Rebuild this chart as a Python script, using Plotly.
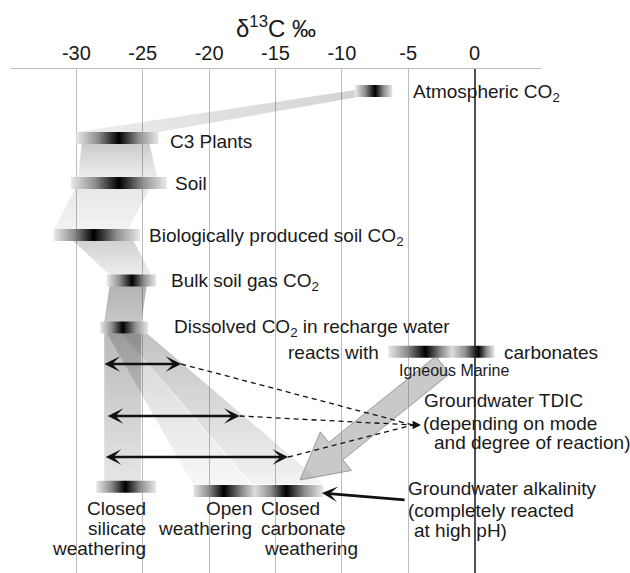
import plotly.graph_objects as go

# ---------------- data: delta 13C (permil) ----------------
source_names = ["Atmospheric CO2", "C3 Plants", "Soil", "Biologically produced soil CO2",
                "Bulk soil gas CO2", "Dissolved CO2 in recharge water", "Closed silicate weathering"]
source_low  = [-9.0, -30.0, -30.4, -31.7, -27.7, -28.2, -28.5]
source_peak = [-7.5, -26.8, -26.8, -28.7, -25.8, -26.5, -26.3]
source_high = [-6.2, -23.8, -23.2, -25.2, -24.0, -24.6, -24.0]
source_row  = [91, 138, 183, 235, 280.5, 327.5, 486.7]

carbonate_range = [-6.5, 1.5]
carbonate_peaks = [-3.7, 0.3]          # igneous, marine
carbonate_row = 351.7
weathering_range = [-21.2, -11.4]
weathering_peaks = [-18.9, -14.2]      # open, closed carbonate
weathering_row = 491

# groundwater TDIC ranges (double arrows)
tdic_low  = [-28.0, -27.75, -27.9]
tdic_high = [-22.1, -17.7, -14.05]
tdic_row  = [364, 416, 457]

# transition bands: top range / bottom range
link_top_lo = [-29.6, -30.1, -30.25, -27.5, -27.9, -27.7, -26.6]
link_top_hi = [-24.5, -24.5, -25.7, -24.7, -25.13, -26.6, -24.7]
link_top_y  = [144, 189, 240.7, 286, 333.3, 333.3, 333.3]
link_bot_lo = [-29.85, -31.7, -27.5, -27.9, -27.9, -21.14, -16.8]
link_bot_hi = [-23.9, -26.1, -24.35, -25.1, -25.13, -16.8, -11.4]
link_bot_y  = [177.3, 229.5, 275, 322, 481.7, 486, 484]

tick_vals = [-35, -30, -25, -20, -15, -10, -5, 0, 5]
tick_text = ["", "-30", "-25", "-20", "-15", "-10", "-5", "0", ""]

# ---------------- layout geometry ----------------
W, H = 630, 573
ML, MR, MT, MB = 10, 89, 69, 0
X0, X1 = -35, 5
SX = (W - ML - MR) / (X1 - X0)
FONT = "Liberation Sans, Arial, sans-serif"


def px(x):
    return ML + (x - X0) * SX


def dx(p):
    return X0 + (p - ML) / SX


fig = go.Figure()


def poly(xs, ys, gtype, cscale):
    fig.add_trace(go.Scatter(
        x=list(xs) + [xs[0]], y=list(ys) + [ys[0]], mode="lines", fill="toself",
        line=dict(width=0), fillgradient=dict(type=gtype, colorscale=cscale),
        hoverinfo="skip", showlegend=False))


def gray(a):
    return f"rgba(0,0,0,{a})"


# wedge from C3 plants up to atmospheric CO2
poly([source_low[1], source_high[1], source_low[0], source_low[0]],
     [source_row[1] - 6, source_row[1] - 6, source_row[0] + 6.5, source_row[0] - 1],
     "horizontal", [[0, gray(0.07)], [1, gray(0.17)]])

link_alpha = [(0.07, 0.2), (0.05, 0.09), (0.07, 0.18), (0.22, 0.3),
              (0.1, 0.27), (0.03, 0.17), (0.05, 0.24)]
for i in range(len(link_top_lo)):
    a0, a1 = link_alpha[i]
    poly([link_top_lo[i], link_top_hi[i], link_bot_hi[i], link_bot_lo[i]],
         [link_top_y[i], link_top_y[i], link_bot_y[i], link_bot_y[i]],
         "vertical", [[0, gray(a0)], [1, gray(a1)]])

EDGE = "#e8e8e8"
MID = "#8f8f8f"


def bar(lo, hi, y, peaks, h=6):
    span = hi - lo
    cs = [[0, EDGE]]
    cpos = [(p - lo) / span for p in peaks]
    prev = 0
    for k, c in enumerate(cpos):
        cs.append([prev + (c - prev) * 0.5, MID])
        cs.append([c, "#000000"])
        if k + 1 < len(cpos):
            nxt = cpos[k + 1]
            cs.append([c + (nxt - c) * 0.3, MID])
            cs.append([c + (nxt - c) * 0.5, "#dcdcdc"])
            prev = c + (nxt - c) * 0.5
        else:
            cs.append([c + (1 - c) * 0.5, MID])
    cs.append([1, EDGE])
    poly([lo, hi, hi, lo], [y - h, y - h, y + h, y + h], "horizontal", cs)


for i in range(len(source_low)):
    bar(source_low[i], source_high[i], source_row[i], [source_peak[i]])
bar(carbonate_range[0], carbonate_range[1], carbonate_row, carbonate_peaks)
bar(weathering_range[0], weathering_range[1], weathering_row, weathering_peaks)

# big gray arrow: carbonates -> closed carbonate weathering
ax_s = (px(-2.4), 365.0)
ax_t = (px(-13.15), 480.0)
vx, vy = ax_t[0] - ax_s[0], ax_t[1] - ax_s[1]
L = (vx ** 2 + vy ** 2) ** 0.5
ux, uy = vx / L, vy / L
nx, ny = -uy, ux
hw, HW, HL = 11.2, 24.8, 46
bx, by = ax_t[0] - ux * HL, ax_t[1] - uy * HL
pts = [(ax_s[0] + nx * hw, ax_s[1] + ny * hw), (bx + nx * hw, by + ny * hw),
       (bx + nx * HW, by + ny * HW), ax_t, (bx - nx * HW, by - ny * HW),
       (bx - nx * hw, by - ny * hw), (ax_s[0] - nx * hw, ax_s[1] - ny * hw)]
fig.add_trace(go.Scatter(
    x=[dx(p[0]) for p in pts] + [dx(pts[0][0])], y=[p[1] for p in pts] + [pts[0][1]],
    mode="lines", fill="toself", fillcolor="rgba(120,120,120,0.40)",
    line=dict(color="rgba(110,110,110,0.6)", width=1), hoverinfo="skip", showlegend=False))

# dashed lines to TDIC label
conv_x, conv_y = dx(413), 425
for i in range(len(tdic_high)):
    fig.add_trace(go.Scatter(
        x=[tdic_high[i], conv_x], y=[tdic_row[i], conv_y], mode="lines",
        line=dict(color="#111", width=1.3, dash="5px,4px"), hoverinfo="skip", showlegend=False))

annotations = []
# double arrows
for i in range(len(tdic_low)):
    annotations.append(dict(
        x=tdic_high[i], y=tdic_row[i], ax=tdic_low[i], ay=tdic_row[i], xref="x", yref="y",
        axref="x", ayref="y", text="", showarrow=True, arrowside="end+start",
        arrowhead=3, startarrowhead=3, arrowsize=1.0, startarrowsize=1.0,
        arrowwidth=2.6, arrowcolor="#111", standoff=0, startstandoff=0))
# small arrowhead at dashed convergence
annotations.append(dict(x=dx(421), y=conv_y, ax=-9, ay=0, xref="x", yref="y", text="",
                        showarrow=True, arrowhead=2, arrowsize=1.4, arrowwidth=1.2,
                        arrowcolor="#111", standoff=0))
# alkalinity arrow
annotations.append(dict(x=dx(322), y=493, ax=dx(406), ay=500, xref="x", yref="y",
                        axref="x", ayref="y", text="", showarrow=True, arrowhead=3,
                        arrowsize=1.0, arrowwidth=2.6, arrowcolor="#111", standoff=0))

labels = [
    ("Atmospheric CO<sub>2</sub>", 411.7, 93, "left", 19),
    ("C3 Plants", 169.3, 141, "left", 19),
    ("Soil", 174.3, 183.5, "left", 19),
    ("Biologically produced soil CO<sub>2</sub>", 148.3, 236.5, "left", 19),
    ("Bulk soil gas CO<sub>2</sub>", 170, 282, "left", 19),
    ("Dissolved CO<sub>2</sub> in recharge water", 173.3, 327.5, "left", 19),
    ("reacts with", 380, 352, "right", 19),
    ("carbonates", 503, 352, "left", 19),
    ("Igneous Marine", 398, 370, "left", 16),
    ("Groundwater TDIC", 423.3, 400, "left", 19),
    ("(depending on mode", 421.7, 423.3, "left", 19),
    ("and degree of reaction)", 433, 442, "left", 19),
    ("Groundwater alkalinity", 407.3, 488.3, "left", 19),
    ("(completely reacted", 406.7, 510, "left", 19),
    ("at high pH)", 412.7, 530, "left", 19),
    ("Closed", 147.3, 508, "right", 19),
    ("silicate", 147.3, 528, "right", 19),
    ("weathering", 147.3, 548, "right", 19),
    ("Open", 253.3, 508, "right", 19),
    ("weathering", 253.3, 528, "right", 19),
    ("Closed", 260, 508, "left", 19),
    ("carbonate", 260, 528, "left", 19),
    ("weathering", 262.7, 548, "left", 19),
]
for t, x, y, anc, fs in labels:
    annotations.append(dict(text=t, x=dx(x), y=y, xref="x", yref="y", xanchor=anc,
                            yanchor="middle", showarrow=False, borderpad=0,
                            font=dict(family=FONT, size=fs, color="#1a1a1a")))
# axis title, placed above the tick labels (paper coordinates)
annotations.append(dict(text="δ<sup>13</sup>C ‰", x=dx(276), xref="x",
                        y=(H - MB - 27) / (H - MT - MB), yref="paper",
                        xanchor="center", yanchor="middle", showarrow=False,
                        font=dict(family=FONT, size=24, color="#1a1a1a")))

fig.update_layout(
    width=W, height=H, margin=dict(l=ML, r=MR, t=MT, b=MB, pad=0),
    paper_bgcolor="white", plot_bgcolor="white", showlegend=False,
    annotations=annotations,
    xaxis=dict(range=[X0, X1], side="top", tickvals=tick_vals, ticktext=tick_text,
               showgrid=True, gridcolor="#bdbdbd", gridwidth=1,
               zeroline=True, zerolinecolor="#505050", zerolinewidth=2,
               showline=True, linecolor="#bdbdbd", linewidth=1, ticks="",
               tickfont=dict(family=FONT, size=20, color="#1a1a1a"), fixedrange=True),
    yaxis=dict(range=[H, MT], visible=False, fixedrange=True),
)

fig.write_html("out.html")
